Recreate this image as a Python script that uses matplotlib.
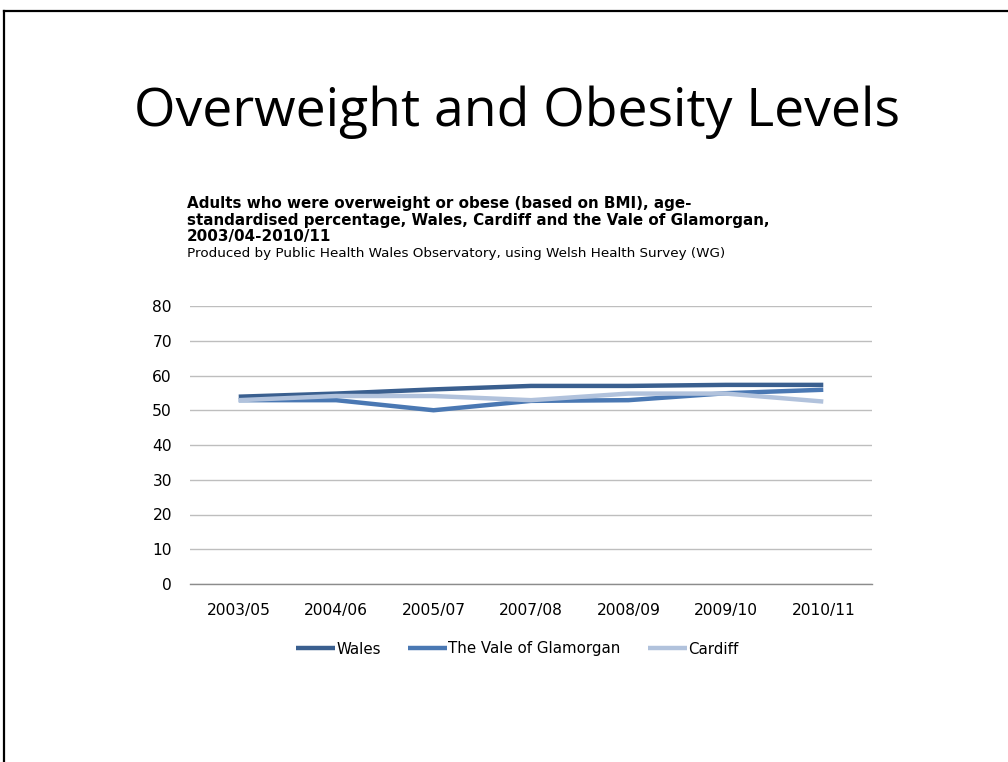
import matplotlib
matplotlib.use("Agg")
import matplotlib.pyplot as plt
from matplotlib.lines import Line2D

plt.rcParams["font.family"] = ["DejaVu Sans"]

categories = ["2003/05", "2004/06", "2005/07", "2007/08", "2008/09", "2009/10", "2010/11"]
wales = [53.9, 54.8, 56.0, 57.0, 57.0, 57.3, 57.3]
vale = [52.9, 52.9, 50.0, 52.7, 52.9, 54.9, 55.9]
cardiff = [52.9, 54.1, 54.1, 52.9, 54.8, 54.8, 52.5]
series_names = ["Wales", "The Vale of Glamorgan", "Cardiff"]
yticks = [0, 10, 20, 30, 40, 50, 60, 70, 80]

colors = ["#3A5F8F", "#4A78B3", "#B1C2DC"]

W, H = 1008, 762
fig = plt.figure(figsize=(W / 100, H / 100), dpi=100)
fig.patch.set_facecolor("white")

# slide border lines
fig.add_artist(Line2D([4 / W, 4 / W], [0, 1 - 11 / H], color="black", lw=1.6, transform=fig.transFigure))
fig.add_artist(Line2D([4 / W, 1], [1 - 11 / H, 1 - 11 / H], color="black", lw=1.6, transform=fig.transFigure))

fig.text(517 / W, 1 - 112 / H, "Overweight and Obesity Levels", ha="center", va="center",
         fontsize=38.5, family="Open Sans", color="black")

fig.text(187 / W, 1 - 220 / H,
         "Adults who were overweight or obese (based on BMI), age-\nstandardised percentage, Wales, Cardiff and the Vale of Glamorgan,\n2003/04-2010/11",
         ha="left", va="center", fontsize=10.9, fontweight="bold", family="DejaVu Sans",
         linespacing=1.1)
fig.text(187 / W, 1 - 253 / H, "Produced by Public Health Wales Observatory, using Welsh Health Survey (WG)",
         ha="left", va="center", fontsize=9.7, family="DejaVu Sans")

ax = fig.add_axes([190 / W, 1 - 584 / H, (872 - 190) / W, (584 - 306) / H])
x = list(range(len(categories)))
for vals, c, name in zip([wales, vale, cardiff], colors, series_names):
    ax.plot(x, vals, color=c, lw=3.2, label=name, solid_capstyle="butt", zorder=3)

ax.set_xlim(-0.5, len(categories) - 0.5)
ax.set_ylim(0, 80)
ax.set_yticks(yticks)
ax.set_xticks(x)
ax.set_xticklabels(categories)
ax.yaxis.grid(True, color="#BEBEBE", lw=1)
ax.set_axisbelow(True)
for s in ["top", "right", "left"]:
    ax.spines[s].set_visible(False)
ax.spines["bottom"].set_color("#8C8C8C")
ax.spines["bottom"].set_linewidth(1)
ax.tick_params(axis="both", length=0, labelsize=11.2, colors="#000000")
ax.tick_params(axis="y", pad=13)
ax.tick_params(axis="x", pad=14)

leg = fig.legend(loc="center", bbox_to_anchor=(517 / W, 1 - 649 / H), ncol=3, frameon=False,
                 fontsize=10.8, handlelength=2.6, handletextpad=0.1, columnspacing=1.8)

fig.savefig("out.png", dpi=100, facecolor="white")
